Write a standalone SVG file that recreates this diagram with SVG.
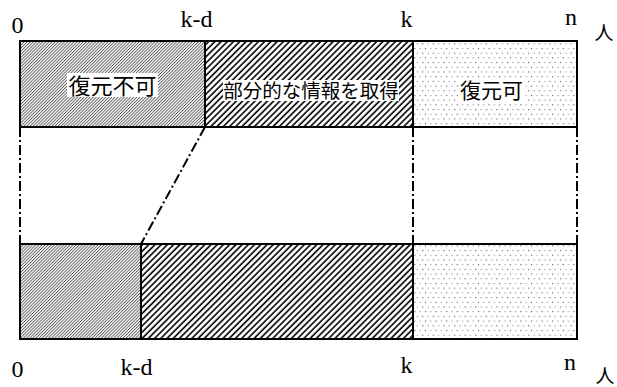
<svg xmlns="http://www.w3.org/2000/svg" width="617" height="387" viewBox="0 0 617 387">
<style>
.box{stroke:#000;stroke-width:2;}
.conn{fill:none;stroke:#000;stroke-width:2;stroke-dasharray:10 3 2 3;}
.num{font-family:"Liberation Serif","Times New Roman",serif;font-size:24px;fill:#000;text-anchor:middle;}
.jp{font-family:"Noto Sans CJK JP","Noto Sans CJK SC",sans-serif;fill:#000;text-anchor:middle;}
.bg{fill:#fff;}
</style>
<defs>
<pattern id="fine" patternUnits="userSpaceOnUse" width="2.2" height="10" patternTransform="rotate(45)">
<rect width="2.2" height="10" fill="#fff"/>
<line x1="0.5" y1="0" x2="0.5" y2="10" stroke="#444" stroke-width="0.8"/>
</pattern>
<pattern id="bold" patternUnits="userSpaceOnUse" width="4.4" height="10" patternTransform="rotate(45)">
<rect width="4.4" height="10" fill="#fff"/>
<line x1="1" y1="0" x2="1" y2="10" stroke="#000" stroke-width="1.6"/>
</pattern>
<pattern id="dots" patternUnits="userSpaceOnUse" width="10.6" height="9.4">
<rect width="10.6" height="9.4" fill="#fff"/>
<rect x="1" y="1" width="1" height="1" fill="#333"/>
<rect x="6.3" y="1" width="1" height="1" fill="#777"/>
<rect x="3.6" y="5.7" width="1" height="1" fill="#777"/>
<rect x="8.9" y="5.7" width="1" height="1" fill="#333"/>
</pattern>
</defs>
<rect width="617" height="387" fill="#fff"/>

<g id="connectors">
<line class="conn" x1="20" y1="127" x2="20" y2="244"/>
<line class="conn" x1="205" y1="127" x2="141" y2="244"/>
<line class="conn" x1="413" y1="127" x2="413" y2="244"/>
<line class="conn" x1="577" y1="127" x2="577" y2="244"/>
</g>

<g id="top-unrecoverable">
<rect class="box" x="20" y="41" width="185" height="86" fill="url(#fine)"/>
<rect class="bg" x="67" y="73" width="91" height="24"/>
<text class="jp" x="112.5" y="94" font-size="22">復元不可</text>
</g>
<g id="top-partial">
<rect class="box" x="205" y="41" width="208" height="86" fill="url(#bold)"/>
<rect class="bg" x="223" y="80" width="176" height="21"/>
<text class="jp" x="311" y="98" font-size="19.5">部分的な情報を取得</text>
</g>
<g id="top-recoverable">
<rect class="box" x="413" y="41" width="164" height="86" fill="url(#dots)"/>
<rect class="bg" x="458" y="78" width="67" height="24"/>
<text class="jp" x="491.5" y="98" font-size="21">復元可</text>
</g>

<g id="bottom-unrecoverable">
<rect class="box" x="20" y="244" width="121" height="95" fill="url(#fine)"/>
</g>
<g id="bottom-partial">
<rect class="box" x="141" y="244" width="272" height="95" fill="url(#bold)"/>
</g>
<g id="bottom-recoverable">
<rect class="box" x="413" y="244" width="164" height="95" fill="url(#dots)"/>
</g>

<g id="top-axis">
<text class="num" x="17.5" y="33">0</text>
<text class="num" x="196.5" y="27">k-d</text>
<text class="num" x="406.5" y="27">k</text>
<text class="num" x="571" y="25">n</text>
<text class="jp" x="604" y="40" font-size="19">人</text>
</g>
<g id="bottom-axis">
<text class="num" x="17.5" y="377">0</text>
<text class="num" x="136.5" y="375">k-d</text>
<text class="num" x="406.5" y="373">k</text>
<text class="num" x="570" y="370">n</text>
<text class="jp" x="605" y="383" font-size="19">人</text>
</g>
</svg>
